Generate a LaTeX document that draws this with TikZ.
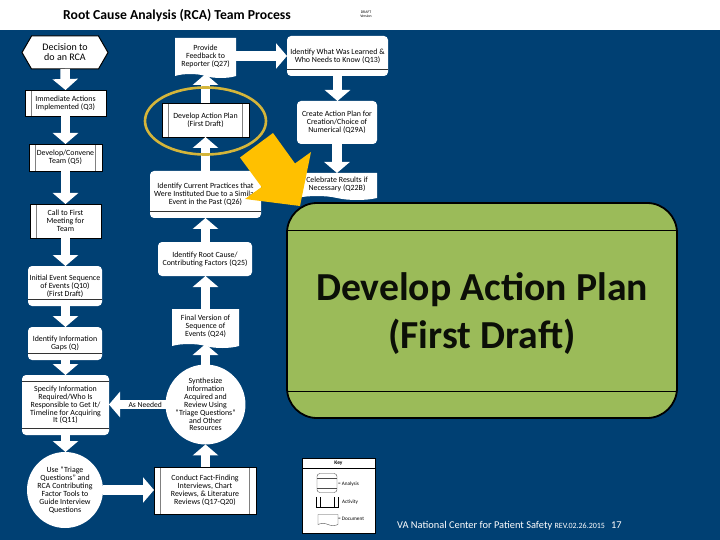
\documentclass[tikz,border=0pt]{standalone}
\usepackage{fontspec}
\setmainfont{Carlito}
\usetikzlibrary{arrows.meta,shapes.geometric,shapes.misc,shapes.symbols,calc}
\definecolor{bluebg}{RGB}{0,64,115}
\definecolor{goldring}{RGB}{212,181,58}
\definecolor{orangearrow}{RGB}{255,192,0}
\definecolor{greenbox}{RGB}{155,187,89}
\newcommand{\fsz}[1]{\fontsize{#1}{#1}\selectfont}
\tikzset{
  small/.style={font=\fsz{7.9}, align=center, text=black, inner sep=0pt, outer sep=0pt},
  blockarrow/.style={draw=white, line width=9.5pt, -{Triangle[width=25pt,length=11pt,fill=white]}},
  activityl/.style={small, rectangle, fill=white, draw=black, line width=.5pt, path picture={
     \draw[gray, line width=.8pt] ([xshift=6.5pt]path picture bounding box.north west) -- ([xshift=6.5pt]path picture bounding box.south west);}},
  activity/.style={activityl, path picture={
     \draw[gray, line width=.8pt] ([xshift=6.5pt]path picture bounding box.north west) -- ([xshift=6.5pt]path picture bounding box.south west);
     \draw[gray, line width=.8pt] ([xshift=-6.5pt]path picture bounding box.north east) -- ([xshift=-6.5pt]path picture bounding box.south east);}},
  analysis/.style={small, rectangle, rounded corners=4pt, fill=white, path picture={
     \draw[black!80, line width=.6pt] ([yshift=6.5pt]path picture bounding box.south west) -- ([yshift=6.5pt]path picture bounding box.south east);}},
  analysistwo/.style={small, rectangle, rounded corners=4pt, fill=white, path picture={
     \draw[black!80, line width=.6pt] ([yshift=6.5pt]path picture bounding box.south west) -- ([yshift=6.5pt]path picture bounding box.south east);
     \draw[black!80, line width=.6pt] ([yshift=-6.5pt]path picture bounding box.north west) -- ([yshift=-6.5pt]path picture bounding box.north east);}},
  docu/.style={small, shape=tape, tape bend top=none, tape bend bottom=out and in, tape bend height=4pt, fill=white},
  circ/.style={small, circle, fill=white, minimum size=76pt},
  keyitem/.style={font=\fsz{5.2}, inner sep=0pt, text=black},
}
\begin{document}
\begin{tikzpicture}[x=1pt,y=-1pt]
\useasboundingbox (0,0) rectangle (720,540);
\fill[white] (0,0) rectangle (720,540);
\fill[bluebg] (0,30) rectangle (720,540);
\node[font=\bfseries\fsz{13.7}, inner sep=0pt] (title) at (177,15) {Root Cause Analysis (RCA) Team Process};
\node[font=\fsz{3.8}, align=center, inner sep=0pt] (stamp) at (366,14) {DRAFT\\Version};

% left column
\node[small, font=\fsz{10}, signal, signal to=west and east, signal pointer angle=120, fill=white, draw=black, line width=1pt, minimum width=86pt, minimum height=33pt] (hex) at (65,52.5) {Decision to\\do an RCA};
\node[activityl, minimum width=81pt, minimum height=26pt] (immediate) at (65.5,103) {Immediate Actions\\Implemented (Q3)};
\node[activity, minimum width=73pt, minimum height=27pt] (staffing) at (65.5,157.5) {Develop/Convene\\Team (Q5)};
\node[activityl, minimum width=71pt, minimum height=34pt] (call) at (65.5,221) {Call to First\\Meeting for\\Team};
\node[analysis, minimum width=74pt, minimum height=40pt] (initial) at (65,286) {Initial Event Sequence\\of Events (Q10)\\(First Draft)};
\node[analysis, minimum width=74pt, minimum height=33pt] (gaps) at (65,343.5) {Identify Information\\Gaps (Q)};
\node[analysistwo, minimum width=87pt, minimum height=60pt] (specify) at (65.5,405) {Specify Information\\Required/Who Is\\Responsible to Get It/\\Timeline for Acquiring\\It (Q11)};
\node[circ] (triage) at (65,490) {Use ``Triage\\Questions'' and\\RCA Contributing\\Factor Tools to\\Guide Interview\\Questions};

% middle column
\node[activity, minimum width=102pt, minimum height=47pt] (conduct) at (205,490.5) {Conduct Fact-Finding\\Interviews, Chart\\Reviews, \& Literature\\Reviews (Q17-Q20)};
\node[circ] (synth) at (205.5,404.5) {Synthesize\\Information\\Acquired and\\Review Using\\``Triage Questions''\\and Other\\Resources};
\node[docu, minimum width=67pt, minimum height=39pt] (final) at (205.5,326.5) {Final Version of\\Sequence of\\Events (Q24)};
\node[analysis, path picture={}, minimum width=94pt, minimum height=34pt] (root) at (205,259) {Identify Root Cause/\\Contributing Factors (Q25)};
\node[analysis, minimum width=111pt, minimum height=47pt] (current) at (205.5,194.5) {Identify Current Practices that\\Were Instituted Due to a Similar\\Event in the Past (Q26)};
\node[activity, minimum width=87pt, minimum height=34pt] (plan) at (205.5,120) {Develop Action Plan\\(First Draft)};
\node[docu, minimum width=61pt, minimum height=40pt] (feedback) at (205.5,56) {Provide\\Feedback to\\Reporter (Q27)};

% right column
\node[analysis, minimum width=101pt, minimum height=40pt] (learned) at (337.5,56) {Identify What Was Learned \&\\Who Needs to Know (Q13)};
\node[analysis, path picture={}, minimum width=80pt, minimum height=43pt] (create) at (337,122.5) {Create Action Plan for\\Creation/Choice of\\Numerical (Q29A)};
\node[docu, minimum width=80pt, minimum height=27pt] (celebrate) at (337,184.5) {Celebrate Results if\\Necessary (Q22B)};

% connectors
\draw[blockarrow] (hex.south) -- (immediate.north);
\draw[blockarrow] (immediate.south) -- (staffing.north);
\draw[blockarrow] (staffing.south) -- (call.north);
\draw[blockarrow] (call.south) -- (initial.north -| call.south);
\draw[blockarrow] (initial.south -| call.south) -- (gaps.north -| call.south);
\draw[blockarrow] (gaps.south -| call.south) -- (specify.north -| call.south);
\draw[blockarrow] (specify.south) -- (triage.north -| specify.south);
\draw[blockarrow] (triage.east) -- (conduct.west |- triage.east);
\draw[blockarrow] (conduct.north -| synth.south) -- (synth.south);
\draw[blockarrow] (synth.north) -- (final.south);
\draw[blockarrow] (final.north) -- (root.south -| final.north);
\draw[blockarrow] (root.north -| final.north) -- (current.south);
\draw[blockarrow] (current.north) -- (plan.south);
\draw[blockarrow] (plan.north) -- (feedback.south);
\draw[blockarrow] (feedback.east) -- (learned.west |- feedback.east);
\draw[blockarrow] (learned.south) -- (create.north -| learned.south);
\draw[blockarrow] (create.south) -- (celebrate.north);
\draw[blockarrow] (synth.west) -- node[font=\fsz{7.6}, text=black, pos=.36, inner sep=0pt] (asneeded) {As Needed} (specify.east |- synth.west);

% ring
\node[draw=goldring, line width=2.6pt, ellipse, minimum width=121pt, minimum height=67pt, inner sep=0pt] (ring) at (205.5,121) {};

% big box
\node[rectangle, rounded corners=30pt, fill=greenbox, draw=black, line width=1.8pt, minimum width=390pt, minimum height=215pt, inner sep=0pt, path picture={
   \draw[black, line width=.7pt] ([yshift=-27pt]path picture bounding box.north west) -- ([yshift=-27pt]path picture bounding box.north east);
   \draw[black, line width=.7pt] ([yshift=27pt]path picture bounding box.south west) -- ([yshift=27pt]path picture bounding box.south east);}] (big) at (482,310.5) {};
\node[font=\bfseries\fsz{39.7}, align=center, inner sep=0pt, text=black!92!greenbox] (bigtext) at (482,313.5) {Develop Action Plan\\[7.5pt](First Draft)};

% big pointer
\fill[orangearrow] (273,133) -- (295,163.5) -- (311,152) -- (300,206) -- (245,199) -- (261.6,187) -- (240,157.5) -- cycle;

% key
\node[rectangle, fill=white, draw=black, line width=.7pt, minimum width=73pt, minimum height=75pt, inner sep=0pt] (key) at (338.5,495.5) {};
\draw[black, line width=.5pt] (key.north west |- 0,468) -- (key.north east |- 0,468);
\node[keyitem, font=\bfseries\fsz{5.4}] (keytitle) at (338.5,463.5) {Key};
\node[rectangle, rounded corners=3pt, draw=black!70, line width=.4pt, fill=white, minimum width=20pt, minimum height=19pt, inner sep=0pt] (keyan) at (327,483) {};
\draw[black!70, line width=.4pt] ([yshift=5pt]keyan.south west) -- ([yshift=5pt]keyan.south east);
\draw[black!70, line width=.4pt] ([yshift=-5pt]keyan.north west) -- ([yshift=-5pt]keyan.north east);
\node[keyitem, anchor=west] (keyant) at (338,484) {= Analysis};
\node[rectangle, minimum width=21pt, minimum height=10pt, inner sep=0pt] (keyac) at (327,502) {};
\draw[black, line width=.4pt] (keyac.north west) -- (keyac.south west) -- (keyac.south east) -- (keyac.north east);
\draw[black, line width=.4pt] ([xshift=4pt]keyac.south west) -- ([xshift=4pt]keyac.north west);
\draw[black, line width=.4pt] ([xshift=-4pt]keyac.south east) -- ([xshift=-4pt]keyac.north east);
\node[keyitem, anchor=west] (keyact) at (342,502) {Activity};
\node[shape=tape, tape bend top=none, tape bend bottom=out and in, tape bend height=2pt, draw=black!70, line width=.4pt, fill=white, minimum width=20pt, minimum height=11pt, inner sep=0pt] (keydoc) at (328,519) {};
\node[keyitem, anchor=west] (keydoct) at (338,519) {= Document};

% footer
\node[anchor=west, inner sep=0pt, text=white, font=\fsz{10.4}] (footer) at (397,525.5) {VA National Center for Patient Safety {\fsz{8}REV.02.26.2015}\hspace{6pt}17};
\end{tikzpicture}
\end{document}
